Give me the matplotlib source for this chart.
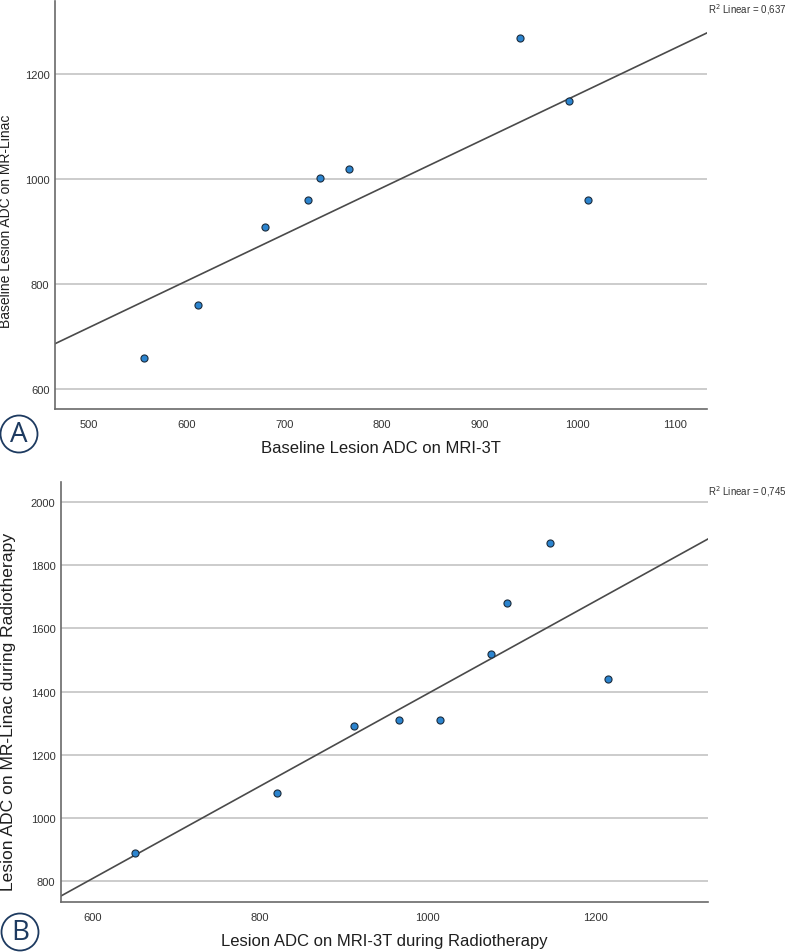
import numpy as np
import matplotlib
matplotlib.use("Agg")
import matplotlib.pyplot as plt
from matplotlib.patches import Circle

# panel A: baseline
a_x = [556, 611, 680, 724, 737, 766, 941, 992, 1011]
a_y = [660, 760, 910, 960, 1002, 1020, 1270, 1150, 960]
a_xticks = [500, 600, 700, 800, 900, 1000, 1100]
a_yticks = [600, 800, 1000, 1200]
a_xlabel = "Baseline Lesion ADC on MRI-3T"
a_ylabel = "Baseline Lesion ADC on MR-Linac"
a_r2 = "0,637"

# panel B: during radiotherapy
b_x = [650, 820, 912, 966, 1015, 1076, 1095, 1146, 1215]
b_y = [890, 1080, 1290, 1310, 1310, 1520, 1680, 1870, 1440]
b_xticks = [600, 800, 1000, 1200]
b_yticks = [800, 1000, 1200, 1400, 1600, 1800, 2000]
b_xlabel = "Lesion ADC on MRI-3T during Radiotherapy"
b_ylabel = "Lesion ADC on MR-Linac during Radiotherapy"
b_r2 = "0,745"

plt.rcParams['font.family'] = ['Liberation Sans', 'DejaVu Sans']

W, H = 792, 953
fig = plt.figure(figsize=(W / 100, H / 100), dpi=100)
navy = '#1d3a60'


def px_axes(left, top, right, bottom):
    return fig.add_axes([left / W, 1 - bottom / H, (right - left) / W, (bottom - top) / H])


def panel(ax, x, y, xticks, yticks, xlim, ylim, xlabel, ylabel, r2, r2_top,
          ylab_xy, xlab_y, ylab_size):
    ax.set_xlim(*xlim)
    ax.set_ylim(*ylim)
    ax.set_xticks(xticks)
    ax.set_yticks(yticks)
    ax.grid(axis='y', color='#c8c8c8', lw=1.3)
    ax.set_axisbelow(True)
    for s in ['top', 'right']:
        ax.spines[s].set_visible(False)
    for s in ['left', 'bottom']:
        ax.spines[s].set_color('#6a6a6a')
        ax.spines[s].set_linewidth(1.2)
    ax.tick_params(axis='both', length=0, labelsize=8, colors='#333333')
    ax.tick_params(axis='x', pad=7)
    ax.tick_params(axis='y', pad=4)

    k, b = np.polyfit(x, y, 1)
    lx = np.array(xlim)
    ax.plot(lx, k * lx + b, color='#4a4a4a', lw=1.2, zorder=2)
    ax.scatter(x, y, s=26, color='#2b84cf', edgecolor='#1c2c3c', linewidth=0.8, zorder=3)

    ax.set_xlabel(xlabel, fontsize=12, color='#1e1e1e')
    ax.xaxis.set_label_coords(0.5, xlab_y)
    ax.set_ylabel(ylabel, fontsize=ylab_size, color='#1e1e1e')
    ax.yaxis.set_label_coords(*ylab_xy)

    fig.text(708 / W, 1 - r2_top / H, "R$^2$ Linear = " + r2, fontsize=7,
             color='#333333', ha='left', va='center')


axA = px_axes(55, 2, 707, 410)
panel(axA, a_x, a_y, a_xticks, a_yticks, (465, 1133), (562, 1340),
      a_xlabel, a_ylabel, a_r2, 10, (-0.064, 0.462), -0.076, 10)

axB = px_axes(61, 483, 708, 903)
panel(axB, b_x, b_y, b_xticks, b_yticks, (562, 1335), (735, 2063),
      b_xlabel, b_ylabel, b_r2, 492, (-0.07, 0.455), -0.074, 12.6)

for letter, cx, cy in [("A", 19, 435), ("B", 20, 933)]:
    fig.add_artist(Circle((cx / 100, (H - cy) / 100), 0.185, transform=fig.dpi_scale_trans,
                          fill=False, ec=navy, lw=1.3))
    fig.text(cx / W, 1 - cy / H, letter, fontsize=20, color=navy, ha='center', va='center',
             family=['Open Sans', 'DejaVu Sans'])

fig.savefig("out.png", dpi=100)
